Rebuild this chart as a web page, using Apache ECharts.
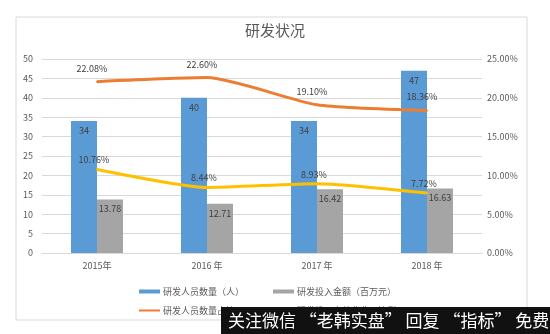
<!DOCTYPE html>
<html><head><meta charset="utf-8">
<script src="https://cdn.jsdelivr.net/npm/echarts@6/dist/echarts.min.js"></script>
<style>html,body{margin:0;padding:0;background:#fff}#c{width:550px;height:334px}</style>
</head><body><div id="c"></div>
<script>
const categories = ['2015年', '2016 年', '2017 年', '2018 年'];
const staffCount = [34, 40, 34, 47];
const rdSpend = [13.78, 12.71, 16.42, 16.63];
const staffRatio = [22.08, 22.60, 19.10, 18.36];
const spendRatio = [10.76, 8.44, 8.93, 7.72];
const leftTicks = [0, 50, 5];
const rightTicks = [0, 25, 5];
const names = ['研发人员数量（人）', '研发投入金额（百万元）', '研发人员数量占比', '研发投入占营业收入比例'];

const FONT = '"Noto Sans CJK SC", "Noto Sans", sans-serif';
const TXT = '#595959';
const chart = echarts.init(document.getElementById('c'));
function legendAt(name, left, top, h) {
  return { data: [name], left: left, top: top, icon: 'rect', itemWidth: 21, itemHeight: h, itemGap: 0,
    textStyle: { fontFamily: FONT, fontSize: 9, color: TXT, padding: [0, 0, 0, -2] } };
}
function lineLabel(dist, off) {
  return { show: true, position: 'top', distance: dist, offset: off, fontFamily: FONT, fontSize: 9, color: '#404040',
    formatter: p => p.value.toFixed(2) + '%' };
}
chart.setOption({
  animation: false,
  title: { text: '研发状况', left: 'center', top: 18, textStyle: { fontFamily: FONT, fontSize: 15, fontWeight: 'normal', color: TXT } },
  legend: [
    legendAt(names[0], 134, 282, 4),
    legendAt(names[1], 268, 282, 4),
    legendAt(names[2], 134, 301, 2),
    legendAt(names[3], 268, 301, 2)
  ],
  grid: { left: 42, right: 68, top: 59, bottom: 81 },
  xAxis: { type: 'category', data: categories,
    axisLine: { show: true, lineStyle: { color: '#D9D9D9' } }, axisTick: { show: false },
    axisLabel: { fontFamily: FONT, fontSize: 9, color: TXT, margin: 8 } },
  yAxis: [
    { type: 'value', min: leftTicks[0], max: leftTicks[1], interval: leftTicks[2],
      axisLine: { show: false }, axisTick: { show: false },
      splitLine: { lineStyle: { color: '#D9D9D9' } },
      axisLabel: { fontFamily: FONT, fontSize: 9, color: TXT, margin: 9 } },
    { type: 'value', min: rightTicks[0], max: rightTicks[1], interval: rightTicks[2], position: 'right',
      axisLine: { show: false }, axisTick: { show: false }, splitLine: { show: false },
      axisLabel: { fontFamily: FONT, fontSize: 9, color: TXT, margin: 5, formatter: v => v.toFixed(2) + '%' } }
  ],
  series: [
    { name: names[0], type: 'bar', data: staffCount, barWidth: 26, barGap: '0%', itemStyle: { color: '#5B9BD5' },
      label: { show: true, position: 'insideTop', distance: 5, fontFamily: FONT, fontSize: 9, color: '#404040' } },
    { name: names[1], type: 'bar', data: rdSpend, barWidth: 26, itemStyle: { color: '#A5A5A5' },
      label: { show: true, position: 'insideTop', distance: 5, fontFamily: FONT, fontSize: 9, color: '#404040' } },
    { name: names[2], type: 'line', yAxisIndex: 1, data: staffRatio, smooth: 0.2, symbol: 'circle', symbolSize: 2, showSymbol: true,
      lineStyle: { color: '#ED7D31', width: 3 }, itemStyle: { color: '#ED7D31' },
      label: lineLabel(6, [-5, -2]) },
    { name: names[3], type: 'line', yAxisIndex: 1, data: spendRatio, smooth: 0.2, symbol: 'circle', symbolSize: 2, showSymbol: true,
      lineStyle: { color: '#FFC000', width: 3 }, itemStyle: { color: '#FFC000' },
      label: lineLabel(4, [-3, 0]) }
  ],
  graphic: [
    { type: 'rect', shape: { x: 16, y: 17, width: 511, height: 303 }, style: { fill: 'none', stroke: '#D9D9D9', lineWidth: 1 }, z: -1 },
    { type: 'rect', shape: { x: 221, y: 307, width: 329, height: 27 }, style: { fill: '#111111' }, z: 100 },
    { type: 'text', x: 228, y: 320.5, style: { text: '关注微信 “老韩实盘” 回复 “指标” 免费领取', fill: '#ffffff', font: '17px "Noto Sans CJK SC", sans-serif', textVerticalAlign: 'middle' }, z: 101 }
  ]
});
</script></body></html>
